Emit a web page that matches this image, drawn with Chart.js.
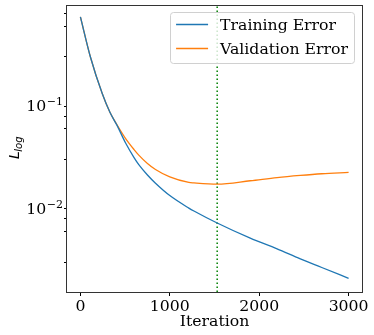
<!DOCTYPE html>
<html>
<head>
<meta charset="utf-8">
<script src="https://cdn.jsdelivr.net/npm/chart.js@4.4.1/dist/chart.umd.min.js"></script>
<style>
  html, body { margin: 0; padding: 0; background: #fff; }
  canvas { display: block; }
</style>
</head>
<body>
<canvas id="lossChart" width="374" height="335"></canvas>
<script>
// values
var iterations      = [0,     112,  243,   330,   411,    504,    600,    653,    750,    840,    1000,   1213,   1270,    1530,   1900,   2200,   2460,    2700,   3000];
var trainingError   = [0.736, 0.30, 0.133, 0.087, 0.0646, 0.0440, 0.0316, 0.0270, 0.0214, 0.0178, 0.0135, 0.0102, 0.00955, 0.0073, 0.0052, 0.0041, 0.00327, 0.0027, 0.00212];
var validationError = [0.736, 0.30, 0.133, 0.087, 0.0655, 0.0486, 0.0378, 0.0334, 0.0277, 0.0242, 0.0205, 0.0181, 0.0179,  0.0174, 0.0188, 0.0202, 0.0212,  0.0220, 0.0227];
var seriesLabels = ['Training Error', 'Validation Error'];
var seriesColors = ['#1f77b4', '#ff7f0e'];
var stopIteration = 1530;   // green dotted line
var xTicks = [0, 1000, 2000, 3000];
var xRange = [-150, 3150];
var yRange = [0.00156, 0.96];

var serif = "'DejaVu Serif', serif";
var fontPx = 15.7;

function toPoints(ys) {
    return iterations.map(function (x, i) { return { x: x, y: ys[i] }; });
}

function isDecade(v) {
    var l = Math.log10(v);
    return Math.abs(l - Math.round(l)) < 1e-9;
}

// log ticks: 1..9 x 10^k inside the range
var yTicks = [];
for (var e = -3; e <= 0; e++) {
    for (var m = 1; m <= 9; m++) {
        var v = m * Math.pow(10, e);
        if (v >= yRange[0] && v <= yRange[1]) yTicks.push(v);
    }
}

// box round the plot
var framePlugin = {
    id: 'frame',
    afterDatasetsDraw: function (chart) {
        var a = chart.chartArea, c = chart.ctx;
        c.save();
        c.strokeStyle = '#333';
        c.lineWidth = 1;
        c.strokeRect(Math.round(a.left) - 0.5, Math.round(a.top) + 0.5,
                     Math.round(a.right - a.left) + 1, Math.round(a.bottom - a.top));
        c.restore();
    }
};

// 10^-k labels and the L_log axis title
var labelsPlugin = {
    id: 'mathLabels',
    afterDraw: function (chart) {
        var c = chart.ctx, y = chart.scales.y;
        c.save();
        c.fillStyle = '#000';
        c.textBaseline = 'alphabetic';
        y.ticks.forEach(function (t) {
            if (!isDecade(t.value)) return;
            var py = y.getPixelForValue(t.value);
            var exp = '\u2212' + Math.abs(Math.round(Math.log10(t.value)));
            c.font = '11px ' + serif;
            var ew = c.measureText(exp).width;
            var right = y.right - 4;
            c.textAlign = 'right';
            c.fillText(exp, right, py - 1);
            c.font = fontPx + 'px ' + serif;
            c.fillText('10', right - ew - 0.5, py + 5);
        });

        // y title
        c.translate(19, 159);
        c.rotate(-Math.PI / 2);
        c.textAlign = 'left';
        c.font = 'italic 14px "DejaVu Sans", sans-serif';
        c.fillText('L', 0, 0);
        var lw = c.measureText('L').width;
        c.font = 'italic 10px "DejaVu Sans", sans-serif';
        c.fillText('log', lw - 0.5, 2.5);
        c.restore();
    }
};

var legendPlugin = {
    id: 'boxLegend',
    afterDraw: function (chart) {
        var c = chart.ctx, a = chart.chartArea;
        c.save();
        c.font = fontPx + 'px ' + serif;
        var tw = 0;
        seriesLabels.forEach(function (s) { tw = Math.max(tw, c.measureText(s).width); });
        var pad = 6, handle = 32, gap = 12;
        var w = pad + handle + gap + tw + pad;
        var h = 51;
        var x0 = a.right - 8 - w, y0 = a.top + 7.5;
        c.beginPath();
        c.roundRect(Math.round(x0) + 0.5, y0, Math.round(w), h, 3);
        c.fillStyle = 'rgba(255,255,255,0.8)';
        c.fill();
        c.strokeStyle = '#d0d0d0';
        c.lineWidth = 1;
        c.stroke();
        c.textAlign = 'left';
        c.textBaseline = 'middle';
        seriesLabels.forEach(function (s, i) {
            var ry = y0 + 12 + i * 24;
            c.strokeStyle = seriesColors[i];
            c.lineWidth = 1.5;
            c.beginPath();
            c.moveTo(x0 + pad, ry);
            c.lineTo(x0 + pad + handle, ry);
            c.stroke();
            c.fillStyle = '#000';
            c.fillText(s, x0 + pad + handle + gap, ry + 1);
        });
        c.restore();
    }
};

var ctx = document.getElementById('lossChart').getContext('2d');
var lossChart = new Chart(ctx, {
    type: 'line',
    data: {
        datasets: [{
            label: seriesLabels[0],
            data: toPoints(trainingError),
            borderColor: seriesColors[0],
            borderWidth: 1.3,
            pointRadius: 0,
            cubicInterpolationMode: 'monotone'
        }, {
            label: seriesLabels[1],
            data: toPoints(validationError),
            borderColor: seriesColors[1],
            borderWidth: 1.3,
            pointRadius: 0,
            cubicInterpolationMode: 'monotone'
        }, {
            label: 'stop',
            data: [{ x: stopIteration, y: yRange[0] }, { x: stopIteration, y: yRange[1] }],
            borderColor: '#008000',
            borderWidth: 1.5,
            borderDash: [1.5, 2.5],
            pointRadius: 0
        }]
    },
    options: {
        responsive: false,
        animation: false,
        layout: { padding: { top: 5, right: 12, left: 0, bottom: 0 } },
        plugins: {
            legend: { display: false },
            tooltip: { enabled: false }
        },
        scales: {
            x: {
                type: 'linear',
                min: xRange[0],
                max: xRange[1],
                afterBuildTicks: function (s) { s.ticks = xTicks.map(function (v) { return { value: v }; }); },
                afterFit: function (s) { s.height = 43; s.paddingLeft = 0; s.paddingRight = 0; },
                border: { display: false },
                grid: { drawOnChartArea: false, drawTicks: true, tickLength: 4, color: '#000' },
                ticks: {
                    callback: function (v) { return String(v); },
                    font: { family: serif, size: fontPx }, color: '#000', padding: 2, maxRotation: 0
                },
                title: { display: true, text: 'Iteration', font: { family: serif, size: fontPx }, color: '#000', padding: { top: 0, bottom: 4 } }
            },
            y: {
                type: 'logarithmic',
                min: yRange[0],
                max: yRange[1],
                afterBuildTicks: function (s) { s.ticks = yTicks.map(function (v) { return { value: v, major: isDecade(v) }; }); },
                afterFit: function (s) { s.width = 67; s.paddingTop = 0; s.paddingBottom = 0; },
                border: { display: false },
                grid: { drawOnChartArea: false, drawTicks: true, tickLength: 3, color: '#000' },
                ticks: { callback: function () { return ''; }, font: { family: serif, size: 14 } }
            }
        }
    },
    plugins: [framePlugin, labelsPlugin, legendPlugin]
});
</script>
</body>
</html>
